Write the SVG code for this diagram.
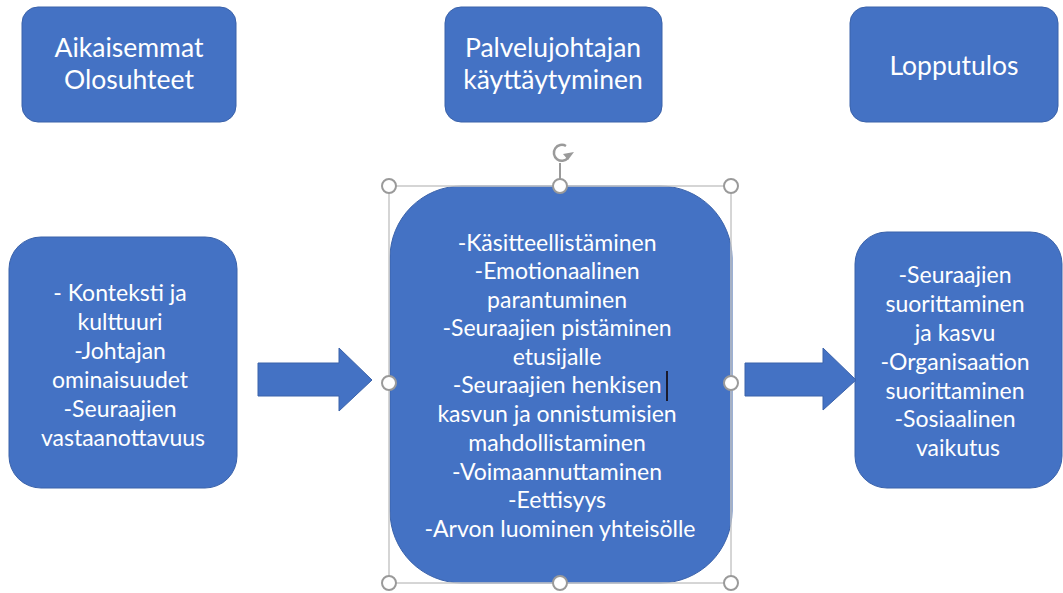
<svg xmlns="http://www.w3.org/2000/svg" width="1063" height="593" viewBox="0 0 1063 593">
  <defs>
    <style>
      .box { fill: #4472C4; stroke: #3A62AA; stroke-width: 1; }
      .arrow { fill: #4472C4; stroke: #3A62AA; stroke-width: 1; }
      .title { font-family: Lato, "Liberation Sans", sans-serif; font-size: 26.5px; fill: #FFFFFF; text-anchor: middle; }
      .body { font-family: Lato, "Liberation Sans", sans-serif; font-size: 23px; fill: #FFFFFF; text-anchor: middle; }
      .sel { fill: none; stroke: #C8C8C8; stroke-width: 1.5; }
      .handle { fill: #FFFFFF; stroke: #9A9A9A; stroke-width: 2; }
    </style>
  </defs>
  <rect width="1063" height="593" fill="#FFFFFF"/>

  <!-- column headers -->
  <g id="header-aikaisemmat">
    <rect class="box" x="22" y="7" width="214" height="115" rx="16"/>
    <text class="title" x="129" y="57">Aikaisemmat</text>
    <text class="title" x="129" y="89">Olosuhteet</text>
  </g>
  <g id="header-palvelujohtajan">
    <rect class="box" x="445" y="7" width="217" height="115" rx="16"/>
    <text class="title" x="553" y="57">Palvelujohtajan</text>
    <text class="title" x="553" y="89">käyttäytyminen</text>
  </g>
  <g id="header-lopputulos">
    <rect class="box" x="850" y="7" width="208" height="115" rx="16"/>
    <text class="title" x="954" y="75">Lopputulos</text>
  </g>

  <!-- content boxes -->
  <g id="node-olosuhteet">
    <rect class="box" x="9" y="237" width="228" height="251" rx="32"/>
    <text class="body">
      <tspan x="123" y="301">- Konteksti ja</tspan>
      <tspan x="123" y="330">kulttuuri</tspan>
      <tspan x="123" y="359">-Johtajan</tspan>
      <tspan x="123" y="388">ominaisuudet</tspan>
      <tspan x="123" y="417">-Seuraajien</tspan>
      <tspan x="123" y="446">vastaanottavuus</tspan>
    </text>
  </g>

  <g id="node-kayttaytyminen">
    <rect class="box" x="390" y="186" width="342" height="397" rx="72"/>
    <text class="body">
      <tspan x="560" y="251">-Käsitteellistäminen</tspan>
      <tspan x="560" y="279">-Emotionaalinen</tspan>
      <tspan x="560" y="308">parantuminen</tspan>
      <tspan x="560" y="336">-Seuraajien pistäminen</tspan>
      <tspan x="560" y="365">etusijalle</tspan>
      <tspan x="560" y="393">-Seuraajien henkisen</tspan>
      <tspan x="560" y="422">kasvun ja onnistumisien</tspan>
      <tspan x="560" y="451">mahdollistaminen</tspan>
      <tspan x="560" y="480">-Voimaannuttaminen</tspan>
      <tspan x="560" y="508">-Eettisyys</tspan>
      <tspan x="560" y="537">-Arvon luominen yhteisölle</tspan>
    </text>
    <!-- text insertion caret -->
    <line x1="667" y1="371" x2="667" y2="401" stroke="#1A1A2E" stroke-width="2"/>
  </g>

  <g id="node-lopputulos">
    <rect class="box" x="855" y="232" width="207" height="256" rx="32"/>
    <text class="body">
      <tspan x="958" y="283">-Seuraajien</tspan>
      <tspan x="958" y="312">suorittaminen</tspan>
      <tspan x="958" y="341">ja kasvu</tspan>
      <tspan x="958" y="370">-Organisaation</tspan>
      <tspan x="958" y="399">suorittaminen</tspan>
      <tspan x="958" y="427">-Sosiaalinen</tspan>
      <tspan x="958" y="456">vaikutus</tspan>
    </text>
  </g>

  <!-- block arrows between columns -->
  <g id="connectors">
    <polygon class="arrow" points="258,363 339,363 339,348 372,380 339,411 339,396 258,396"/>
    <polygon class="arrow" points="745,363 823,363 823,348 856,380 823,410 823,396 745,396"/>
  </g>

  <!-- selection frame with resize and rotation handles -->
  <g id="selection">
    <rect class="sel" x="389" y="186" width="342" height="397"/>
    <line x1="560" y1="163" x2="560" y2="179" stroke="#9A9A9A" stroke-width="2"/>
    <path d="M566,146 A8,8 0 1 0 568,158" fill="none" stroke="#9A9A9A" stroke-width="2.5"/>
    <polygon points="563,154 574,152 568,160" fill="#9A9A9A"/>
    <circle class="handle" cx="389" cy="186" r="7"/>
    <circle class="handle" cx="560" cy="186" r="7"/>
    <circle class="handle" cx="731" cy="186" r="7"/>
    <circle class="handle" cx="389" cy="383" r="7"/>
    <circle class="handle" cx="731" cy="383" r="7"/>
    <circle class="handle" cx="389" cy="583" r="7"/>
    <circle class="handle" cx="560" cy="583" r="7"/>
    <circle class="handle" cx="731" cy="583" r="7"/>
  </g>
</svg>
